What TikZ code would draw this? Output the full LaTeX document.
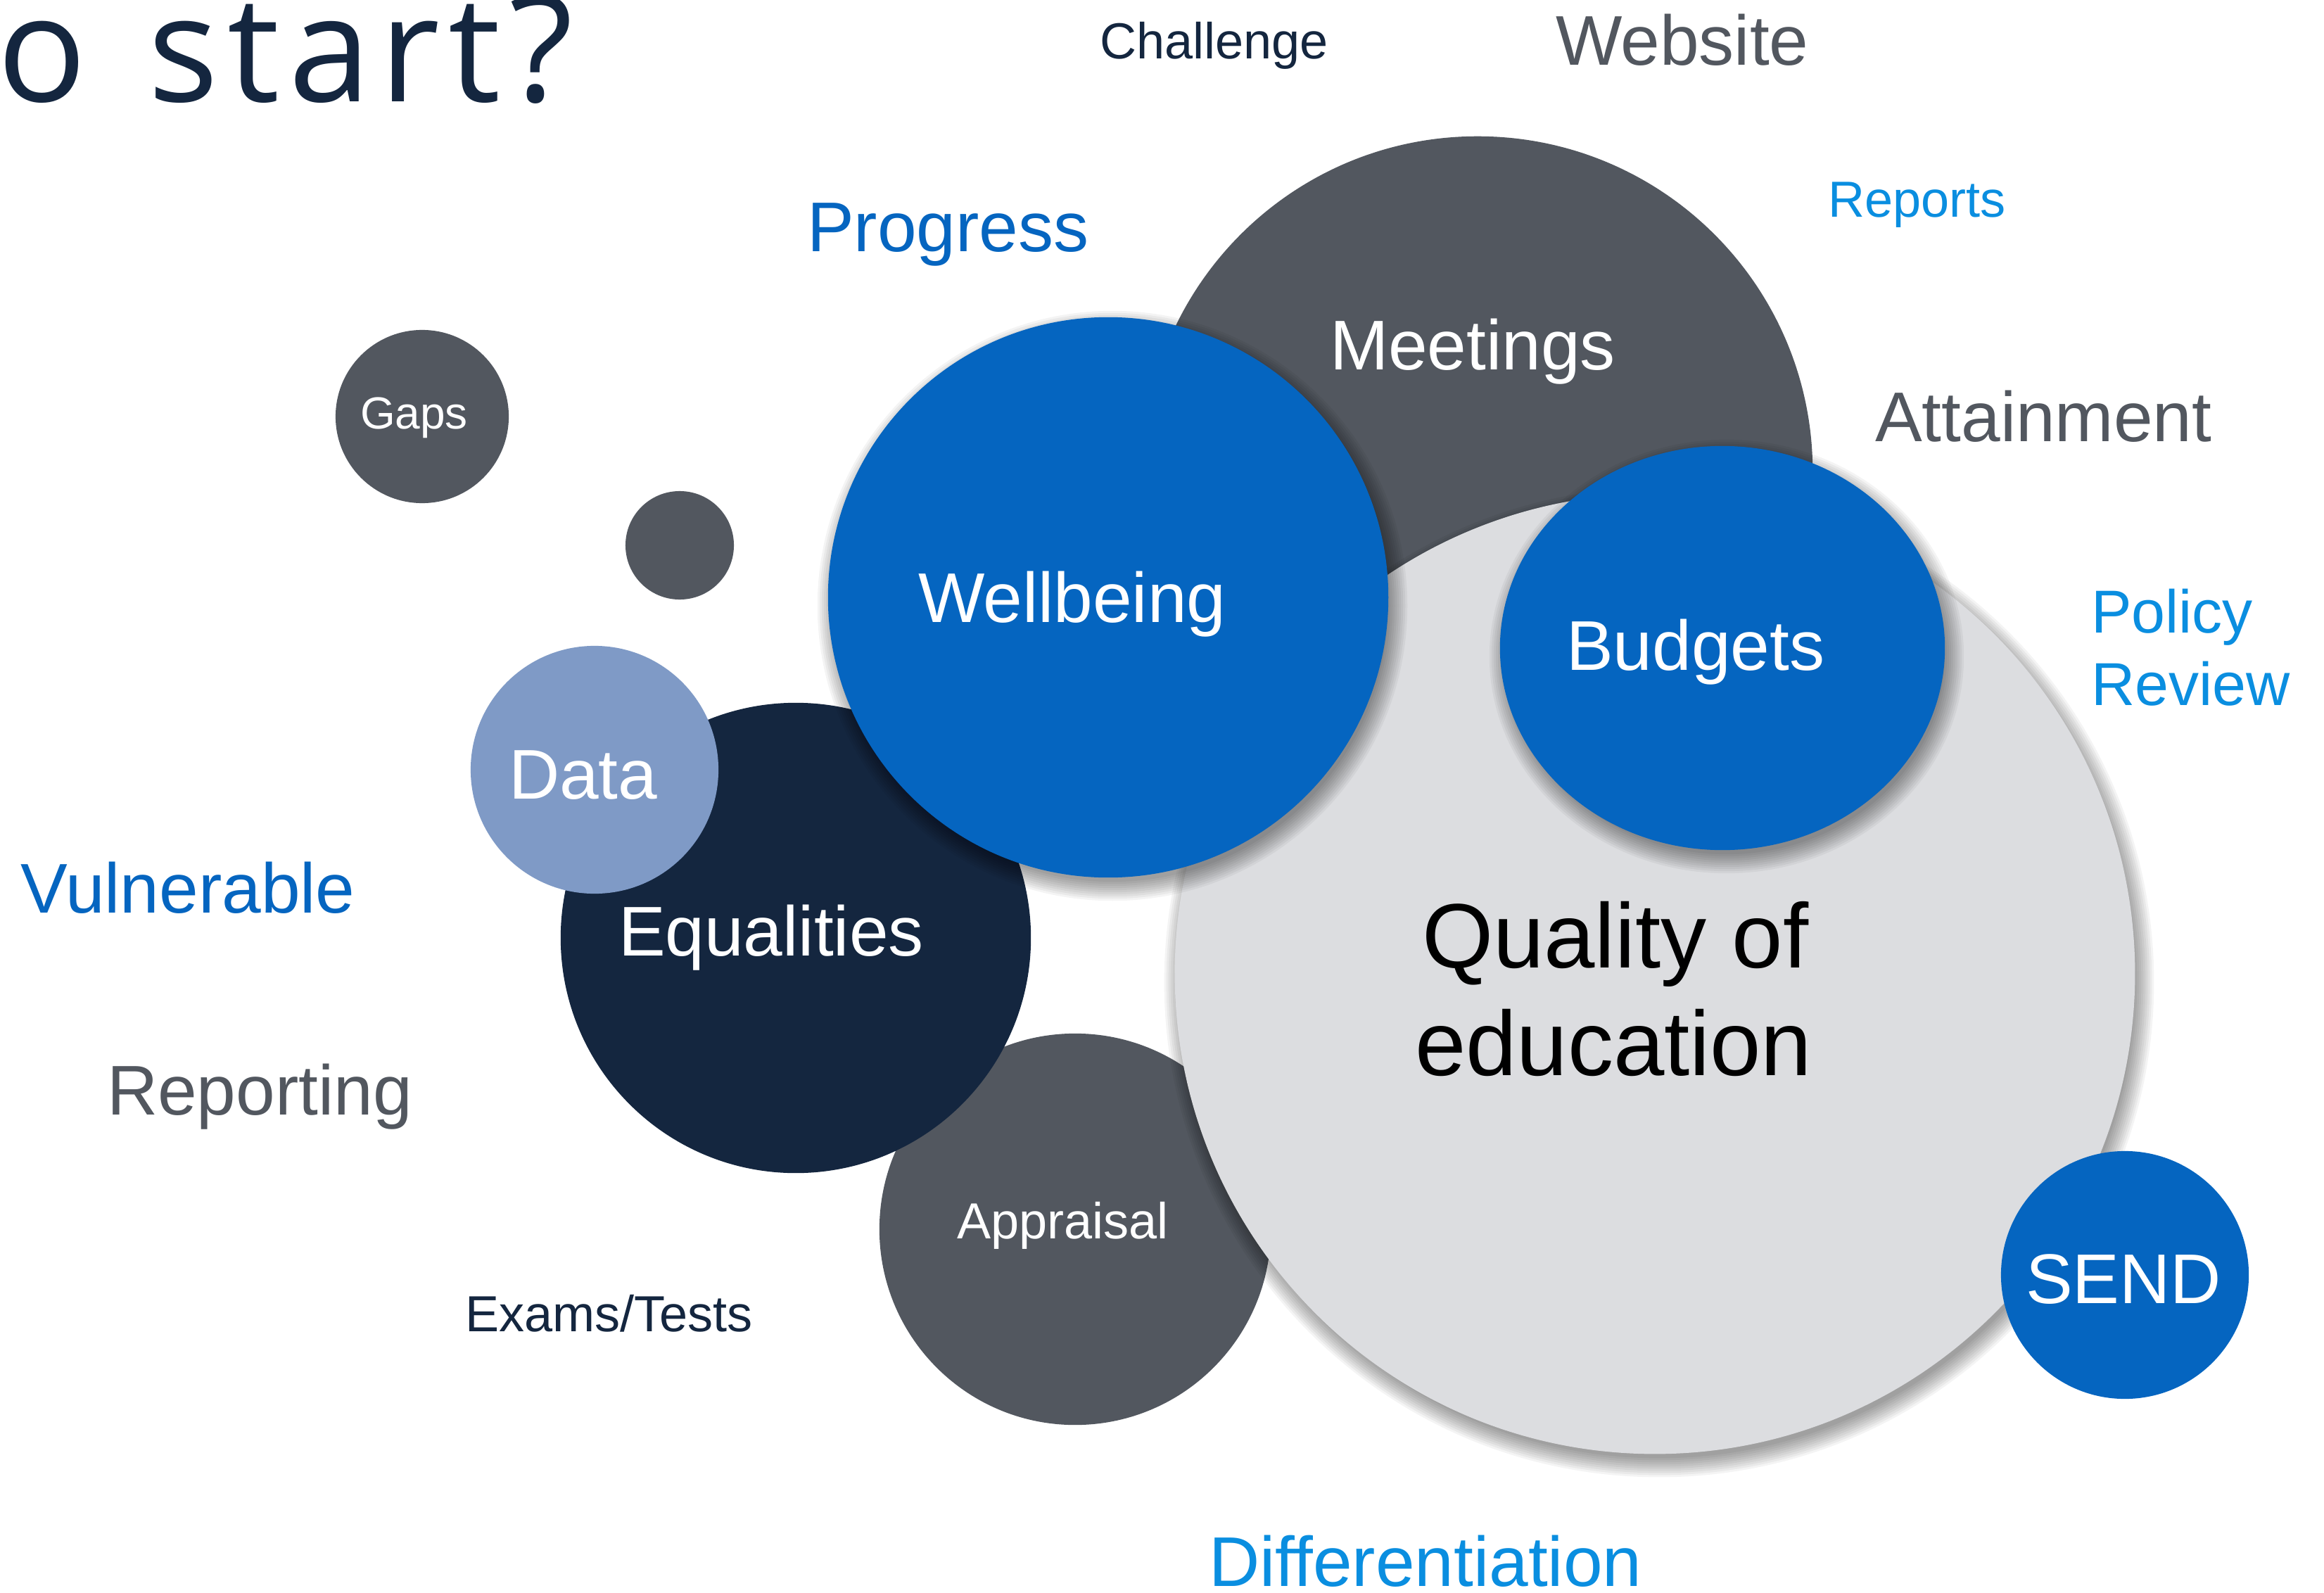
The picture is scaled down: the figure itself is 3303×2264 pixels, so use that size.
\documentclass[tikz,border=0pt]{standalone}
\usepackage{fontspec}
\setmainfont{Liberation Sans}
\newfontfamily\titlefont[LetterSpace=6]{Open Sans}
\usetikzlibrary{shapes.geometric}
\definecolor{cgray}{HTML}{52575F}
\definecolor{cnavy}{HTML}{14263F}
\definecolor{cblue}{HTML}{0565C0}
\definecolor{clight}{HTML}{DCDDE0}
\definecolor{cdata}{HTML}{7F9AC6}
\definecolor{csky}{HTML}{0A8EE0}
\tikzset{
  bubble/.style={circle, inner sep=0pt, outer sep=0pt, draw=none},
  lbl/.style={anchor=base west, inner sep=0pt, outer sep=0pt},
  big/.style={font=\fontsize{28.45pt}{30pt}\selectfont},
  mid/.style={font=\fontsize{20.5pt}{22pt}\selectfont},
  shadowfill/.style={fill=black, opacity=0.045},
}
\begin{document}
\begin{tikzpicture}[x=0.01cm, y=-0.01cm]
\useasboundingbox (0,0) rectangle (3303,2264);
\clip (0,0) rectangle (3303,2264);
\fill[white] (0,0) rectangle (3303,2264);

% bubbles, back to front
\node[bubble, fill=cgray, minimum size=9.52cm] (meet) at (2100,670) {};
\node[bubble, fill=cgray, minimum size=5.56cm] (appr) at (1528,1747) {};
\foreach \k in {0,...,9}
  \fill[shadowfill] ([shift={(6,12)}]2352,1384) circle[radius={6.76cm+\k*0.03cm}];
\node[bubble, fill=clight, minimum size=13.64cm] (qual) at (2352,1384) {};
\node[bubble, fill=cnavy, minimum size=6.68cm] (equal) at (1131,1333) {};
\foreach \k in {0,...,9}
  \fill[shadowfill] ([shift={(6,12)}]1575,849) circle[radius={3.92cm+\k*0.03cm}];
\node[bubble, fill=cblue, minimum size=7.96cm] (well) at (1575,849) {};
\node[bubble, fill=cdata, minimum size=3.52cm] (data) at (845,1094) {};
\foreach \k in {0,...,9}
  \fill[shadowfill] ([shift={(6,12)}]2448,921) ellipse[x radius={3.10cm+\k*0.03cm}, y radius={2.81cm+\k*0.03cm}];
\node[ellipse, inner sep=0pt, outer sep=0pt, fill=cblue, minimum width=6.32cm, minimum height=5.74cm] (budg) at (2448,921) {};
\node[bubble, fill=cblue, minimum size=3.52cm] (send) at (3020,1812) {};
\node[bubble, fill=cgray, minimum size=2.46cm] (gaps) at (600,592) {};
\node[bubble, fill=cgray, minimum size=1.54cm] (dot) at (966,775) {};

% title
\node[lbl, text=cnavy, font=\titlefont\fontsize{59.7pt}{60pt}\selectfont] (title) at (-4,145) {o\hspace{0.1em} start?};

% labels
\node[lbl, mid, text=cnavy] (tchal) at (1563,84) {Challenge};
\node[lbl, big, text=cgray] (tweb) at (2211,93) {Website};
\node[lbl, mid, text=csky] (trep) at (2598,309) {Reports};
\node[lbl, big, text=cblue] (tprog) at (1147,358) {Progress};
\node[lbl, big, text=white] (tmeet) at (1890,525) {Meetings};
\node[lbl, big, text=cgray] (tatt) at (2665,627) {Attainment};
\node[lbl, text=white, font=\fontsize{18.2pt}{20pt}\selectfont] (tgaps) at (512,609) {Gaps};
\node[lbl, big, text=white] (twell) at (1305,884) {Wellbeing};
\node[lbl, big, text=white] (tbudg) at (2226,952) {Budgets};
\node[lbl, text=csky, font=\fontsize{24.5pt}{26pt}\selectfont] (tpol) at (2972,899) {Policy};
\node[lbl, text=csky, font=\fontsize{24.5pt}{26pt}\selectfont] (trev) at (2972,1002) {Review};
\node[lbl, big, text=white] (tdata) at (723,1135) {Data};
\node[lbl, big, text=cblue] (tvul) at (30,1297) {Vulnerable};
\node[lbl, big, text=white] (tequal) at (879,1358) {Equalities};
\node[lbl, text=black, font=\fontsize{37pt}{40pt}\selectfont] (tqual1) at (2021,1375) {Quality of};
\node[lbl, text=black, font=\fontsize{37pt}{40pt}\selectfont] (tqual2) at (2011,1528) {education};
\node[lbl, big, text=cgray] (trepo) at (152,1584) {Reporting};
\node[lbl, mid, text=white] (tappr) at (1360,1760) {Appraisal};
\node[lbl, big, text=white] (tsend) at (2879,1852) {SEND};
\node[lbl, mid, text=cnavy] (texam) at (661,1892) {Exams/Tests};
\node[lbl, big, text=csky] (tdiff) at (1718,2254) {Differentiation};
\end{tikzpicture}
\end{document}
